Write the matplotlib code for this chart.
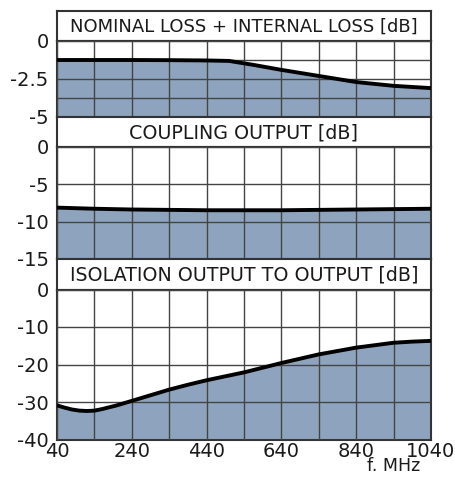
import matplotlib
matplotlib.use("Agg")
import matplotlib.pyplot as plt

# frequency grid (MHz)
freq = [40, 140, 240, 340, 440, 500, 565, 640, 740, 840, 940, 1040]

# values (dB)
nominal_loss = [-1.25, -1.25, -1.25, -1.26, -1.28, -1.31, -1.57, -1.9, -2.3, -2.7, -2.95, -3.1]
coupling_out = [-8.15, -8.3, -8.4, -8.45, -8.5, -8.5, -8.5, -8.5, -8.45, -8.4, -8.35, -8.3]
iso_freq = [40, 60, 80, 100, 120, 140, 160, 200, 240, 290, 340, 390, 440, 540, 640,
            740, 840, 940, 990, 1040]
isolation = [-30.9, -31.5, -32.0, -32.3, -32.4, -32.3, -31.9, -30.9, -29.7, -28.2,
             -26.7, -25.4, -24.2, -22.1, -19.6, -17.3, -15.5, -14.2, -13.9, -13.7]

xticks = [40, 240, 440, 640, 840, 1040]
titles = ["NOMINAL LOSS + INTERNAL LOSS [dB]", "COUPLING OUTPUT [dB]",
          "ISOLATION OUTPUT TO OUTPUT [dB]"]
title_sizes = [13.0, 13.7, 13.7]

W, H = 456, 483
fig = plt.figure(figsize=(W / 100, H / 100), dpi=100)

fill_col = "#8ea4be"
edge_col = "#333333"
grid_col = "#444444"
text_col = "#1a1a1a"
left, right = 57, 431


def px_axes(x0, y0, x1, y1):
    # y in pixels from top
    return fig.add_axes([x0 / W, 1 - y1 / H, (x1 - x0) / W, (y1 - y0) / H])


panels = [
    # (title top, plot top, plot bottom, x, y, ymin, yticks, ticklabels)
    (11, 41, 117, freq, nominal_loss, -5, [0, -1.25, -2.5, -3.75, -5], ["0", "", "-2.5", "", "-5"]),
    (117, 146.5, 259, freq, coupling_out, -15, [0, -5, -10, -15], ["0", "-5", "-10", "-15"]),
    (259, 289.5, 439.5, iso_freq, isolation, -40, [0, -10, -20, -30, -40], ["0", "-10", "-20", "-30", "-40"]),
]

for i, (t_top, p_top, p_bot, xs, ys, ymin, yt, ytl) in enumerate(panels):
    # title strip
    tax = px_axes(left, t_top, right, p_top)
    tax.set_xticks([])
    tax.set_yticks([])
    for s in tax.spines.values():
        s.set_color(edge_col)
        s.set_linewidth(1.5)
    tax.text(0.5, 0.47, titles[i], ha="center", va="center", fontsize=title_sizes[i],
             color=text_col, transform=tax.transAxes)

    ax = px_axes(left, p_top, right, p_bot)
    ax.fill_between(xs, ys, ymin, color=fill_col, zorder=1, linewidth=0)
    ax.plot(xs, ys, color="black", linewidth=2.8, zorder=3, solid_capstyle="butt")
    ax.set_xlim(40, 1040)
    ax.set_ylim(ymin, 0)
    ax.set_xticks(range(40, 1041, 100))
    ax.set_yticks(yt)
    ax.set_yticklabels(ytl, fontsize=14, color=text_col)
    ax.grid(True, color=grid_col, linewidth=1, zorder=2)
    ax.set_axisbelow(False)
    ax.tick_params(length=0, pad=6)
    for s in ax.spines.values():
        s.set_color(edge_col)
        s.set_linewidth(1.5)
    if i < 2:
        ax.set_xticklabels([])
    else:
        ax.set_xticklabels([str(v) if v in xticks else "" for v in range(40, 1041, 100)],
                           fontsize=14, color=text_col)
        ax.tick_params(axis="x", pad=2)

fig.text(394 / W, 1 - 466 / H, "f. MHz", ha="center", va="center", fontsize=12.5, color=text_col)

fig.savefig("out.png", dpi=100)
